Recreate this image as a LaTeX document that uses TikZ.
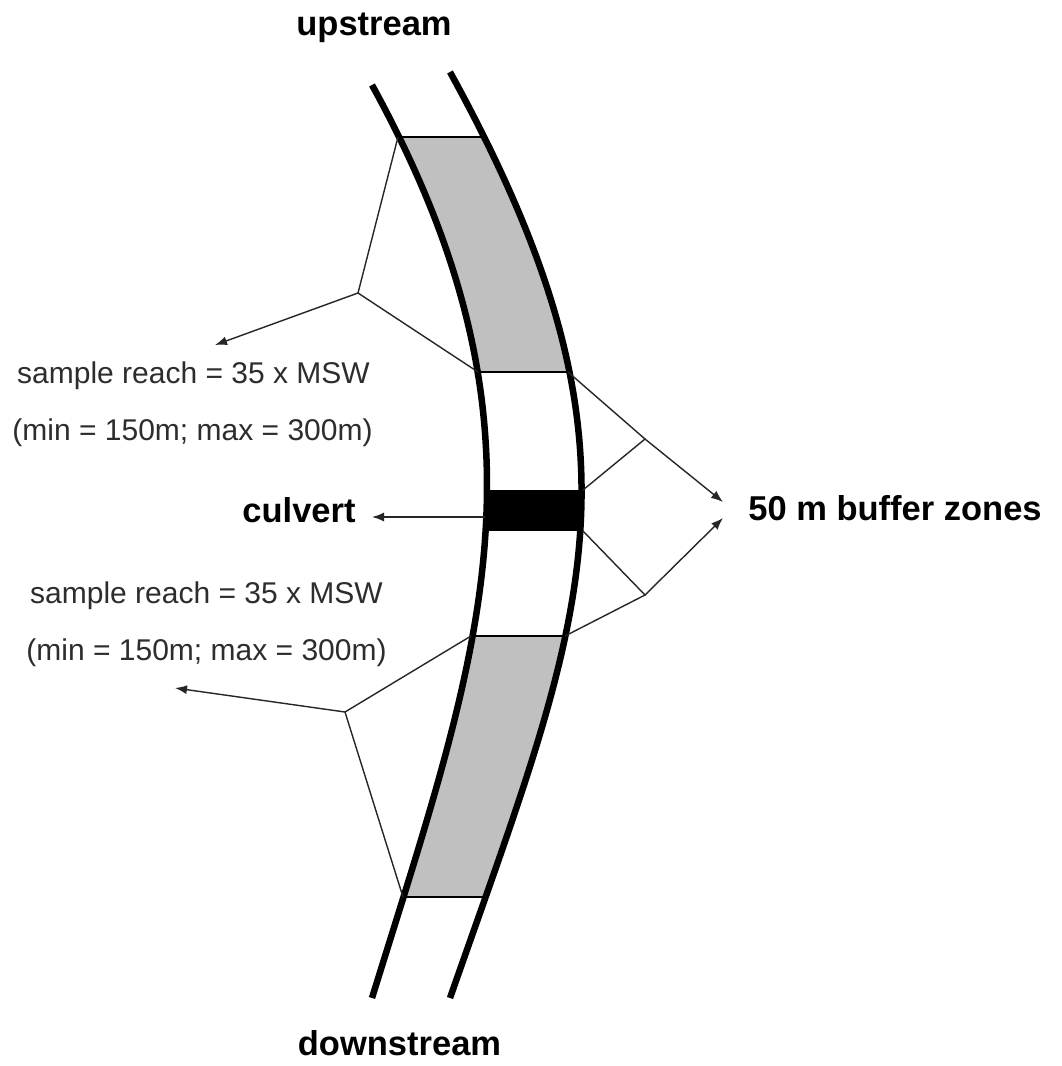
\documentclass[tikz,border=0pt]{standalone}
\usepackage{fontspec}
\setmainfont{Liberation Sans}
\usetikzlibrary{arrows.meta}
\definecolor{reachgray}{RGB}{192,192,192}
\definecolor{txtgray}{RGB}{45,45,45}
\begin{document}
\begin{tikzpicture}[x=1pt,y=-1pt,
  bank/.style={line width=6.5pt},
  edge/.style={line width=2pt},
  leader/.style={line width=1.4pt, black!85},
  arrowline/.style={leader, -{Latex[length=12pt,width=9pt]}},
  boldlabel/.style={font=\fontsize{34.5}{40}\selectfont\bfseries, inner sep=0pt, anchor=base},
  plainlabel/.style={font=\fontsize{30}{36}\selectfont, text=txtgray, inner sep=0pt, anchor=base},
]
\useasboundingbox[fill=white] (0,0) rectangle (1061,1066);

% river interior
\begin{scope}
\clip (372,85) .. controls (564.5,435) and (480.5,648) .. (372,998)
  -- (450,998) .. controls (584.8,613) and (661.8,457) .. (450,72) -- cycle;
\fill[reachgray] (300,137) rectangle (700,372);
\fill[reachgray] (300,636) rectangle (700,897);
\fill[black] (300,490) rectangle (700,531);
\draw[edge] (300,137) -- (700,137);
\draw[edge] (300,372) -- (700,372);
\draw[edge] (300,636) -- (700,636);
\draw[edge] (300,897) -- (700,897);
\end{scope}

% banks
\draw[bank] (372,85) .. controls (564.5,435) and (480.5,648) .. (372,998);
\draw[bank] (450,72) .. controls (661.8,457) and (584.8,613) .. (450,998);

% labels
\node[boldlabel] (up) at (374,35) {upstream};
\node[boldlabel] (down) at (399.5,1055) {downstream};
\node[boldlabel] (culv) at (299,522) {culvert};
\node[boldlabel] (buf) at (895,520) {50 m buffer zones};
\node[plainlabel] (s1) at (193.5,383) {sample reach = 35 x MSW};
\node[plainlabel] (m1) at (192.5,440) {(min = 150m; max = 300m)};
\node[plainlabel] (s2) at (206.5,603) {sample reach = 35 x MSW};
\node[plainlabel] (m2) at (206.5,660) {(min = 150m; max = 300m)};

% anchor points
\coordinate (ugTL) at (398,137);
\coordinate (ugBL) at (478,372);
\coordinate (ugBR) at (568,372);
\coordinate (cTR) at (583,490);
\coordinate (cBR) at (583,531);
\coordinate (cL) at (485,517);
\coordinate (lgTL) at (471,636);
\coordinate (lgTR) at (565,636);
\coordinate (lgBL) at (403,897);
\coordinate (j1) at (358,293);
\coordinate (j2) at (345,712);
\coordinate (j3) at (645,439);
\coordinate (j4) at (645,595);
\coordinate (t1) at (215,345);
\coordinate (t2) at (175,688);
\coordinate (t3) at (723,502);
\coordinate (t4) at (723,518);
\coordinate (tc) at (372,517);

% leaders
\draw[leader] (ugTL) -- (j1) -- (ugBL);
\draw[arrowline] (j1) -- (t1);
\draw[leader] (lgTL) -- (j2) -- (lgBL);
\draw[arrowline] (j2) -- (t2);
\draw[leader] (ugBR) -- (j3) -- (cTR);
\draw[arrowline] (j3) -- (t3);
\draw[leader] (cBR) -- (j4) -- (lgTR);
\draw[arrowline] (j4) -- (t4);
\draw[arrowline] (cL) -- (tc);
\end{tikzpicture}
\end{document}
